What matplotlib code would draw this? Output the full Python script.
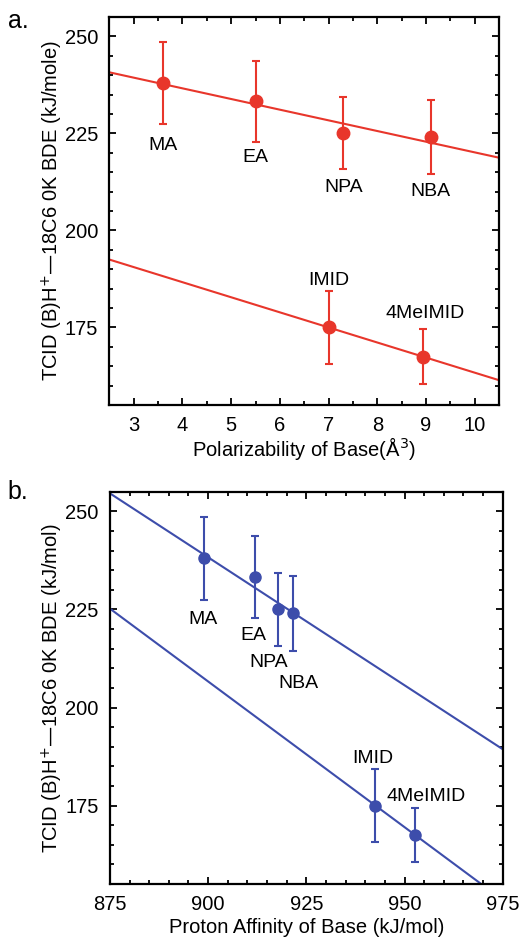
import numpy as np
from matplotlib import pyplot as plt
from matplotlib.ticker import MultipleLocator

plt.rcParams['font.family'] = ['Liberation Sans', 'DejaVu Sans']

# bases
names = ['MA', 'EA', 'NPA', 'NBA', 'IMID', '4MeIMID']
polariz = [3.6, 5.5, 7.3, 9.1, 7.0, 8.93]
proton_aff = [899.0, 912.0, 917.8, 921.5, 942.6, 952.7]
bde = [238.0, 233.3, 225.0, 224.0, 175.0, 167.5]
bde_err = [10.6, 10.4, 9.3, 9.5, 9.4, 7.0]
# first four: primary amines, last two: imidazoles
groups = [[0, 1, 2, 3], [4, 5]]

# label offsets (data units) for each panel
lab_a = [(0.0, -16.0), (0.0, -14.5), (0.0, -14.0), (0.0, -14.0), (0.0, 12.2), (0.06, 11.2)]
lab_b = [(-0.3, -15.5), (-0.6, -15.0), (-2.5, -13.5), (1.4, -18.0), (-0.6, 12.0), (2.8, 9.8)]

red = '#e8362b'
blue = '#3d4dab'

fig = plt.figure(figsize=(5.21, 9.42), dpi=100)
ax1 = fig.add_axes([0.210, 0.570, 0.748, 0.412])
ax2 = fig.add_axes([0.211, 0.0615, 0.754, 0.4165])


def panel(ax, xs, color, xlim, labs, ms):
    xs = np.array(xs)
    ys = np.array(bde)
    for g in groups:
        k, b = np.polyfit(xs[g], ys[g], 1)
        xx = np.array(xlim)
        ax.plot(xx, k * xx + b, color=color, lw=1.5, zorder=2)
    ax.errorbar(xs, ys, yerr=bde_err, fmt='o', color=color, ms=ms,
                capsize=3.2, elinewidth=1.5, capthick=1.5, zorder=3)
    for i, n in enumerate(names):
        ax.text(xs[i] + labs[i][0], ys[i] + labs[i][1], n, ha='center',
                va='center', fontsize=14)
    ax.set_xlim(xlim)
    ax.set_ylim(155, 255)
    ax.yaxis.set_major_locator(MultipleLocator(25))
    ax.yaxis.set_minor_locator(MultipleLocator(5))
    ax.tick_params(which='both', direction='in', top=True, right=True,
                   labelsize=14.5, width=1.3)
    ax.tick_params(which='major', length=5, pad=8)
    ax.tick_params(which='minor', length=3)
    for s in ax.spines.values():
        s.set_linewidth(1.6)


panel(ax1, polariz, red, (2.5, 10.5), lab_a, 9)
ax1.xaxis.set_major_locator(MultipleLocator(1))
ax1.xaxis.set_minor_locator(MultipleLocator(0.5))
ax1.set_xlabel('Polarizability of Base(Å$^3$)', fontsize=14.5, labelpad=0)
ax1.set_ylabel('TCID (B)H$^{+}$—18C6 0K BDE (kJ/mole)', fontsize=14.5, labelpad=0)

panel(ax2, proton_aff, blue, (875, 975), lab_b, 8)
ax2.xaxis.set_major_locator(MultipleLocator(25))
ax2.xaxis.set_minor_locator(MultipleLocator(5))
ax2.set_xlabel('Proton Affinity of Base (kJ/mol)', fontsize=14.5, labelpad=3)
ax2.set_ylabel('TCID (B)H$^{+}$—18C6 0K BDE (kJ/mol)', fontsize=14.5, labelpad=0)

fig.text(0.015, 0.978, 'a.', fontsize=18, va='center')
fig.text(0.015, 0.478, 'b.', fontsize=18, va='center')

fig.savefig('out.png', dpi=100)
